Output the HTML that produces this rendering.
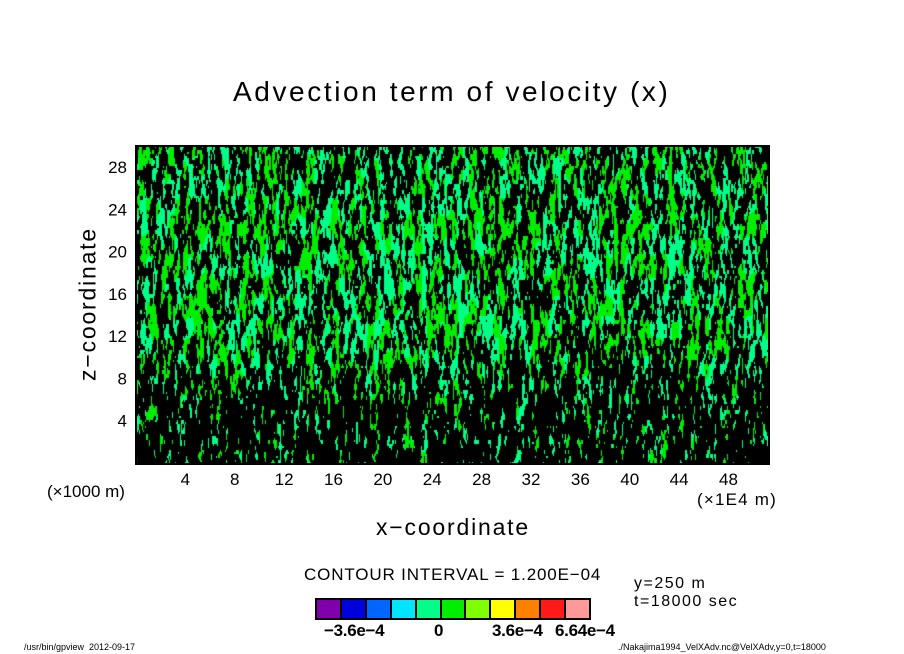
<!DOCTYPE html>
<html><head><meta charset="utf-8">
<style>
body{margin:0;background:#fff;width:904px;height:654px;overflow:hidden;font-family:"Liberation Sans",sans-serif;}
#wrap{position:relative;width:904px;height:654px;}
.t{position:absolute;color:#000;white-space:nowrap;}
</style></head><body>
<div id="wrap">
<div class="t" style="left:233px;top:76px;font-size:28px;letter-spacing:2.6px;">Advection term of velocity (x)</div>
<canvas id="cv" width="632" height="317" style="position:absolute;left:136px;top:146px;"></canvas>
<div style="position:absolute;left:135px;top:145px;width:631px;height:316px;border:2px solid #000;"></div>
<svg id="ax" width="904" height="654" style="position:absolute;left:0;top:0;"></svg>
<div class="t" style="left:47px;top:482px;font-size:17px;">(×1000 m)</div>
<div class="t" style="left:697px;top:490px;font-size:17px;letter-spacing:1.2px;">(×1E4 m)</div>
<div class="t" style="left:376px;top:514px;font-size:23px;letter-spacing:1.8px;">x−coordinate</div>
<div class="t" style="left:88px;top:304px;font-size:23px;letter-spacing:1.8px;transform:translate(-50%,-50%) rotate(-90deg);">z−coordinate</div>
<div class="t" style="left:304px;top:565px;font-size:17px;letter-spacing:0.85px;">CONTOUR INTERVAL = 1.200E−04</div>
<div class="t" style="left:634px;top:575px;font-size:16px;letter-spacing:1.5px;">y=250 m</div>
<div class="t" style="left:634px;top:593px;font-size:16px;letter-spacing:1.5px;">t=18000 sec</div>
<div id="cb" style="position:absolute;left:315px;top:598px;width:272px;height:18px;border:2px solid #000;display:flex;background:#000;gap:2px;"></div>
<div class="t" style="left:324px;top:621px;font-size:17px;font-weight:bold;letter-spacing:-0.3px;">−3.6e−4</div>
<div class="t" style="left:434px;top:621px;font-size:17px;font-weight:bold;">0</div>
<div class="t" style="left:492px;top:621px;font-size:17px;font-weight:bold;letter-spacing:-0.3px;">3.6e−4</div>
<div class="t" style="left:555px;top:621px;font-size:17px;font-weight:bold;letter-spacing:-0.3px;">6.64e−4</div>
<div class="t" style="left:24px;top:642px;font-size:9px;">/usr/bin/gpview&nbsp;&nbsp;2012-09-17</div>
<div class="t" style="left:618px;top:642px;font-size:9px;">./Nakajima1994_VelXAdv.nc@VelXAdv,y=0,t=18000</div>
</div>
<script>
const xTicks=[4,8,12,16,20,24,28,32,36,40,44,48];
const zTicks=[4,8,12,16,20,24,28];
const cbColors=["#7f00aa","#0000dd","#0066ff","#00e5ff","#00ff88","#00ee00","#80ff00","#ffff00","#ff8000","#ff1a1a","#ff9999"];
// approximate fraction of black (dense contours) per z band, bottom to top (each 3 units)
const blackFrac=[0.68,0.66,0.6,0.54,0.5,0.5,0.5,0.52,0.52,0.54];
const X0=0,X1=51.2,Z0=0,Z1=30;
const PL=136,PT=146,PW=632,PH=317;
const sx=v=>PL+(v-X0)/(X1-X0)*PW;
const sz=v=>PT+PH-(v-Z0)/(Z1-Z0)*PH;
const NS="http://www.w3.org/2000/svg";
const ax=document.getElementById('ax');
xTicks.forEach(v=>{const t=document.createElementNS(NS,'text');


t.setAttribute('x',sx(v));t.setAttribute('y',485);t.setAttribute('text-anchor','middle');
t.setAttribute('font-size','17');t.setAttribute('font-family','Liberation Sans, sans-serif');t.textContent=v;ax.appendChild(t);});
zTicks.forEach(v=>{const t=document.createElementNS(NS,'text');


t.setAttribute('x',127);t.setAttribute('y',sz(v)+6);t.setAttribute('text-anchor','end');
t.setAttribute('font-size','17');t.setAttribute('font-family','Liberation Sans, sans-serif');t.textContent=v;ax.appendChild(t);});
const cb=document.getElementById('cb');
cbColors.forEach(c=>{const d=document.createElement('div');


d.style.flex='1';d.style.background=c;cb.appendChild(d);});
const cv=document.getElementById('cv'),ctx=cv.getContext('2d');
function h(i,j){let n=i*374761393+j*668265263;n=(n^(n>>>13))*1274126177;n=n^(n>>>16);return ((n>>>0)%10000)/10000;}
function vn(x,y){const xi=Math.floor(x),yi=Math.floor(y),fx=x-xi,fy=y-yi;
const a=h(xi,yi),b=h(xi+1,yi),c=h(xi,yi+1),d=h(xi+1,yi+1);
const ux=fx*fx*(3-2*fx),uy=fy*fy*(3-2*fy);
return a+(b-a)*ux+(c-a)*uy+(a-b-c+d)*ux*uy;}
const cw=1,chh=2;
for(let py=0;py<PH;py+=chh){
 const z=(PH-py)/PH*(Z1-Z0);
 const bi=Math.min(blackFrac.length-1,Math.floor(z/3));
 const bf=blackFrac[bi];
 for(let px=0;px<PW;px+=cw){
  const n1=vn(px/3,py/14)*0.55+vn(px/1.5,py/5+50)*0.45;
  const n2=vn(px/6+100,py/20+100);
  let col;
  if(n1<bf) col="#000";
  else col=n2>0.5?"#00ee00":"#00ff88";
  ctx.fillStyle=col;ctx.fillRect(px,py,cw,chh);
 }
}
</script>
</body></html>
